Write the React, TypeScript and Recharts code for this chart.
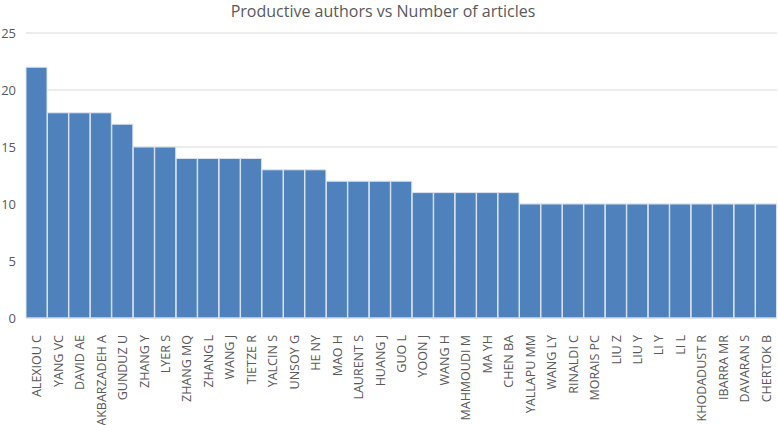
// App.tsx
//
// Bar chart: productive authors vs number of articles.
// Excel-style look — flat blue bars that touch each other,
// light grey horizontal gridlines, vertical author names.

import { BarChart, Bar, XAxis, YAxis, CartesianGrid } from "recharts";

const authors = [
  "ALEXIOU C", "YANG VC", "DAVID AE", "AKBARZADEH A", "GUNDUZ U",
  "ZHANG Y", "LYER S", "ZHANG MQ", "ZHANG L", "WANG J",
  "TIETZE R", "YALCIN S", "UNSOY G", "HE NY", "MAO H",
  "LAURENT S", "HUANG J", "GUO L", "YOON J", "WANG H",
  "MAHMOUDI M", "MA YH", "CHEN BA", "YALLAPU MM", "WANG LY",
  "RINALDI C", "MORAIS PC", "LIU Z", "LIU Y", "LI Y",
  "LI L", "KHODADUST R", "IBARRA MR", "DAVARAN S", "CHERTOK B",
];

const articles = [
  22, 18, 18, 18, 17,
  15, 15, 14, 14, 14,
  14, 13, 13, 13, 12,
  12, 12, 12, 11, 11,
  11, 11, 11, 10, 10,
  10, 10, 10, 10, 10,
  10, 10, 10, 10, 10,
];

const yTicks = [0, 5, 10, 15, 20, 25];

const data = authors.map((name, i) => ({ name, count: articles[i] }));

const FONT = "'Open Sans', sans-serif";
const TEXT = "#595959";

// Author names are written bottom-to-top, right end under the bar
function AuthorTick({ x, y, payload }: any) {
  return (
    <text
      x={0}
      y={0}
      transform={`translate(${x},${y + 9}) rotate(-90)`}
      textAnchor="end"
      dominantBaseline="central"
      fontSize={12.5}
      fontFamily={FONT}
      fill={TEXT}
    >
      {payload.value}
    </text>
  );
}

export default function App() {
  return (
    <div
      style={{
        position: "absolute",
        left: 0,
        top: 0,
        width: 778,
        height: 425,
        background: "#fff",
        fontFamily: FONT,
      }}
    >
      <div
        style={{
          position: "absolute",
          top: 0,
          left: -6,
          width: 778,
          textAlign: "center",
          fontSize: 16,
          color: TEXT,
          lineHeight: "normal",
          whiteSpace: "nowrap",
        }}
      >
        Productive authors vs Number of articles
      </div>
      <BarChart
        width={778}
        height={425}
        data={data}
        margin={{ top: 33, right: 1, left: 0, bottom: 0 }}
        barCategoryGap={0}
      >
        <CartesianGrid stroke="#d9d9d9" vertical={false} />
        <XAxis
          dataKey="name"
          interval={0}
          tick={<AuthorTick />}
          tickLine={false}
          axisLine={{ stroke: "#d9d9d9" }}
          height={107}
        />
        <YAxis
          domain={[0, 25]}
          ticks={yTicks}
          width={26}
          tickLine={false}
          axisLine={false}
          tickMargin={4}
          tick={{ fontSize: 13, fill: TEXT, fontFamily: FONT }}
        />
        <Bar
          dataKey="count"
          fill="#4f81bd"
          stroke="#dbe5f1"
          strokeWidth={1}
          isAnimationActive={false}
        />
      </BarChart>
    </div>
  );
}
